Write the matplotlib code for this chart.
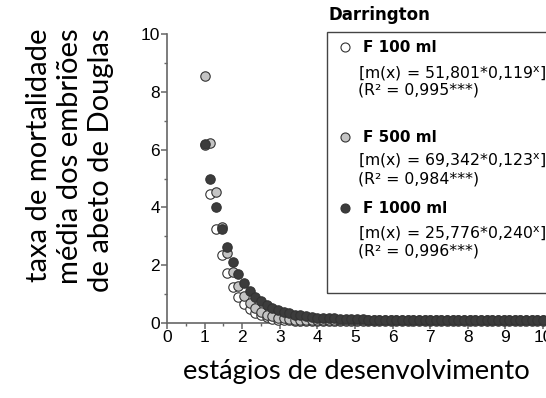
import matplotlib
matplotlib.use("Agg")
import matplotlib.pyplot as plt
from matplotlib.patches import Rectangle

# developmental stages (shared by all three series)
stages = [1.0, 1.15, 1.3, 1.45, 1.6, 1.75, 1.9, 2.05, 2.2, 2.35,
          2.5, 2.65, 2.8, 2.95, 3.1, 3.25, 3.4, 3.55, 3.7, 3.85,
          4.0, 4.15, 4.3, 4.45, 4.6, 4.75, 4.9, 5.05, 5.2, 5.35,
          5.5, 5.65, 5.8, 5.95, 6.1, 6.25, 6.4, 6.55, 6.7, 6.85,
          7.0, 7.15, 7.3, 7.45, 7.6, 7.75, 7.9, 8.05, 8.2, 8.35,
          8.5, 8.65, 8.8, 8.95, 9.1, 9.25, 9.4, 9.55, 9.7, 9.85, 10.0]

# mean mortality rate per volume
f100 = [6.16, 4.48, 3.26, 2.37, 1.72, 1.25, 0.91, 0.66, 0.48, 0.35,
        0.26, 0.20, 0.15, 0.12, 0.10, 0.09, 0.08, 0.08, 0.07, 0.07,
        0.07, 0.07, 0.07, 0.07, 0.07, 0.07, 0.07, 0.07, 0.07, 0.07,
        0.07, 0.07, 0.07, 0.07, 0.07, 0.07, 0.07, 0.07, 0.07, 0.07,
        0.07, 0.07, 0.07, 0.07, 0.07, 0.07, 0.07, 0.07, 0.07, 0.07,
        0.07, 0.07, 0.07, 0.07, 0.07, 0.07, 0.07, 0.07, 0.07, 0.07, 0.07]
f500 = [8.53, 6.23, 4.55, 3.32, 2.43, 1.77, 1.29, 0.95, 0.69, 0.51,
        0.38, 0.29, 0.23, 0.19, 0.16, 0.14, 0.12, 0.11, 0.10, 0.10,
        0.09, 0.09, 0.09, 0.09, 0.09, 0.09, 0.09, 0.09, 0.09, 0.09,
        0.09, 0.09, 0.09, 0.09, 0.09, 0.09, 0.09, 0.09, 0.09, 0.09,
        0.09, 0.09, 0.09, 0.09, 0.09, 0.09, 0.09, 0.09, 0.09, 0.09,
        0.09, 0.09, 0.09, 0.09, 0.09, 0.09, 0.09, 0.09, 0.09, 0.09, 0.09]
f1000 = [6.19, 5.00, 4.03, 3.26, 2.63, 2.12, 1.71, 1.38, 1.12, 0.91,
         0.75, 0.62, 0.52, 0.44, 0.38, 0.33, 0.29, 0.26, 0.23, 0.21,
         0.19, 0.18, 0.17, 0.16, 0.15, 0.14, 0.14, 0.13, 0.13, 0.12,
         0.12, 0.12, 0.12, 0.12, 0.12, 0.12, 0.12, 0.12, 0.12, 0.12,
         0.11, 0.11, 0.11, 0.11, 0.11, 0.11, 0.11, 0.11, 0.11, 0.11,
         0.11, 0.11, 0.11, 0.11, 0.11, 0.11, 0.11, 0.11, 0.11, 0.11, 0.11]

labels = ["F 100 ml", "F 500 ml", "F 1000 ml"]
formulas = [r"[m(x) = 51,801*0,119$^\mathrm{x}$]",
            r"[m(x) = 69,342*0,123$^\mathrm{x}$]",
            r"[m(x) = 25,776*0,240$^\mathrm{x}$]"]
r2_texts = ["(R² = 0,995***)", "(R² = 0,984***)", "(R² = 0,996***)"]
fills = ["white", "#c4c4c4", "#3c3c3c"]

plt.rcParams["font.family"] = "Liberation Sans"

W, H = 546, 398
fig = plt.figure(figsize=(W / 100, H / 100), dpi=100)
ax = fig.add_axes([167 / W, 1 - 323 / H, (W - 167) / W, (323 - 34) / H])


def fx(px):
    return px / W


def fy(py):
    return 1 - py / H


# scatter, lightest first so the dark points sit on top
for ys, c in zip([f100, f500, f1000], fills):
    ax.scatter(stages, ys, s=46, facecolor=c, edgecolor="#333333",
               linewidth=0.8, clip_on=False, zorder=3)

ax.set_xlim(0, (W - 167) / 37.6)
ax.set_ylim(0, 10)
ax.set_xticks(range(0, 11))
ax.set_xticks([i + 0.5 for i in range(0, 10)], minor=True)
ax.set_yticks([0, 2, 4, 6, 8, 10])
ax.set_yticks([1, 3, 5, 7, 9], minor=True)
ax.spines["top"].set_visible(False)
ax.spines["right"].set_visible(False)
for sp in ["left", "bottom"]:
    ax.spines[sp].set_color("#666666")
    ax.spines[sp].set_linewidth(1.2)
ax.spines["left"].set_bounds(0, 10)
ax.tick_params(which="major", length=4, width=1.1, color="#666666",
               labelsize=12.5, pad=1)
ax.tick_params(which="minor", length=2.5, width=1.0, color="#666666")
ax.patch.set_visible(False)

# legend box
fig.patches.append(Rectangle((fx(327), fy(293)), fx(260), (293 - 32) / H,
                             transform=fig.transFigure, facecolor="none",
                             edgecolor="#444444", linewidth=1.0))
fig.text(fx(328), fy(20), "Darrington", fontsize=12, fontweight="bold",
         va="baseline", ha="left", family="DejaVu Sans")

marker_y = [47, 137, 208]
formula_y = [74, 161, 234]
r2_y = [90, 179, 251]
for i in range(3):
    fig.lines.append(plt.Line2D([fx(345)], [fy(marker_y[i])], marker="o",
                                markersize=6.5, markerfacecolor=fills[i],
                                markeredgecolor="#333333", markeredgewidth=0.8,
                                linestyle="none", transform=fig.transFigure))
    fig.text(fx(363), fy(marker_y[i]), labels[i], fontsize=11,
             fontweight="bold", va="center", ha="left", family="DejaVu Sans")
    fig.text(fx(358), fy(formula_y[i]), formulas[i], fontsize=11.3,
             va="center", ha="left", family="DejaVu Sans")
    fig.text(fx(358), fy(r2_y[i]), r2_texts[i], fontsize=11.3,
             va="center", ha="left", family="DejaVu Sans")

# axis titles
fig.text(fx(70), fy(28), "taxa de mortalidade\nmédia dos embriões\nde abeto de Douglas",
         rotation=90, ha="center", va="top", multialignment="right",
         fontsize=21, family="Lato", linespacing=1.22)
fig.text(fx(356), fy(372), "estágios de desenvolvimento", ha="center",
         va="center", fontsize=19.7, family="Lato")

fig.savefig("out.png", dpi=100)
